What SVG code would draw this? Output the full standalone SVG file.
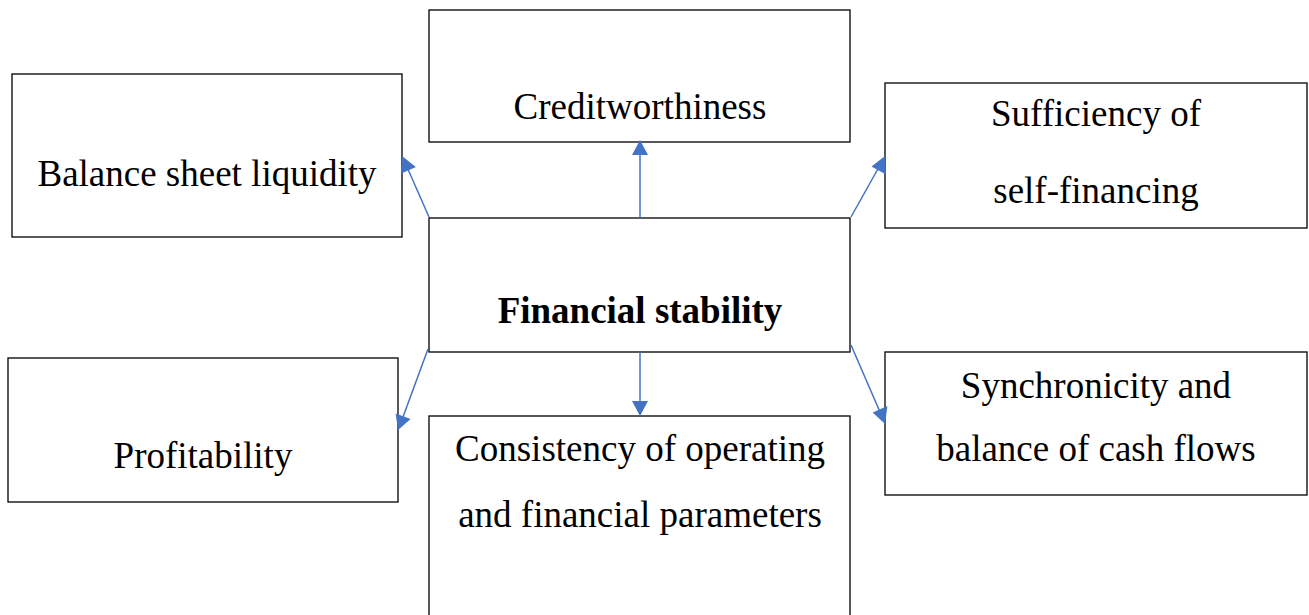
<svg xmlns="http://www.w3.org/2000/svg" width="1309" height="615" viewBox="0 0 1309 615">
<style>
.box{fill:#fff;stroke:#000;stroke-width:1.3}
.t{font-family:"Liberation Serif","Times New Roman",serif;font-size:37px;fill:#000;text-anchor:middle}
.b{font-weight:bold}
.c{stroke:#4472C4;stroke-width:1.5;fill:none}
.h{fill:#4472C4;stroke:none}
</style>
<rect width="1309" height="615" fill="#fff"/>
<g id="balance"><rect class="box" x="12" y="74" width="390" height="163"/><text class="t" x="207" y="186">Balance sheet liquidity</text></g>
<g id="credit"><rect class="box" x="429" y="10" width="421" height="132"/><text class="t" x="640" y="119">Creditworthiness</text></g>
<g id="sufficiency"><rect class="box" x="885" y="83" width="422" height="145"/><text class="t" x="1096" y="126">Sufficiency of</text><text class="t" x="1096" y="203">self-financing</text></g>
<g id="stability"><rect class="box" x="429" y="218" width="421" height="134"/><text class="t b" x="640" y="323">Financial stability</text></g>
<g id="profitability"><rect class="box" x="8" y="358" width="390" height="144"/><text class="t" x="203" y="468">Profitability</text></g>
<g id="consistency"><rect class="box" x="429" y="416" width="421" height="210"/><text class="t" x="640" y="461">Consistency of operating</text><text class="t" x="640" y="527">and financial parameters</text></g>
<g id="synchronicity"><rect class="box" x="885" y="352" width="422" height="143"/><text class="t" x="1096" y="398">Synchronicity and</text><text class="t" x="1096" y="461">balance of cash flows</text></g>
<g id="connectors">
<line class="c" x1="640" y1="218" x2="640" y2="152"/>
<path class="h" d="M640,140 l-8,15 h16 z"/>
<line class="c" x1="640" y1="352" x2="640" y2="404"/>
<path class="h" d="M640,416 l-8,-15 h16 z"/>
<line class="c" x1="429" y1="217" x2="407" y2="167"/>
<path class="h" d="M402,156 L401.3,173.4 L415.9,166.9 Z"/>
<line class="c" x1="851" y1="217" x2="879" y2="167"/>
<path class="h" d="M885,156 L871.5,166.5 L885.5,174.3 Z"/>
<line class="c" x1="428" y1="349" x2="403" y2="417"/>
<path class="h" d="M398,430 L395.6,413.4 L410.6,418.9 Z"/>
<line class="c" x1="851" y1="345" x2="880" y2="412"/>
<path class="h" d="M885,424 L872.7,412.5 L887.4,406.1 Z"/>
</g>
</svg>
